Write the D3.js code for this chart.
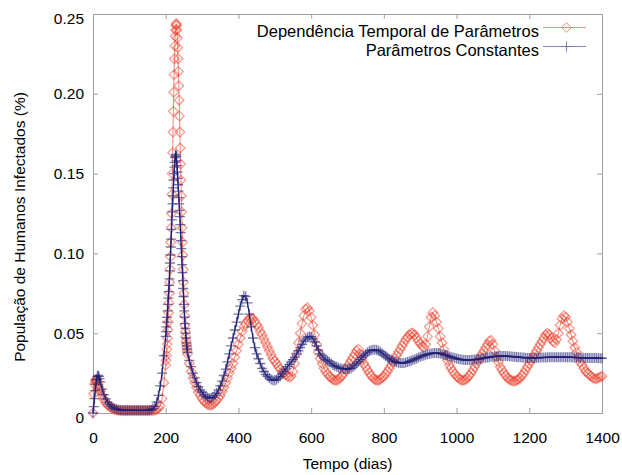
<!DOCTYPE html>
<html>
<head>
<meta charset="utf-8">
<script src="https://cdn.jsdelivr.net/npm/d3@7/dist/d3.min.js"></script>
<style>
  html, body { margin: 0; padding: 0; background: #fff; }
  svg { display: block; font-family: "Liberation Sans", Arial, sans-serif; }
</style>
</head>
<body>
<svg id="chart" width="622" height="475"></svg>
<script>
// ---------------- DATA ----------------
const seriesNames = ["Dependência Temporal de Parâmetros", "Parâmetros Constantes"];
const xTicks = [0, 200, 400, 600, 800, 1000, 1200, 1400];
const yTicks = [0, 0.05, 0.10, 0.15, 0.20, 0.25];
const xLabel = "Tempo (dias)";
const yLabel = "População de Humanos Infectados (%)";

// sampling grid of the simulation output (days)
const daysStart = d3.range(0, 21, 2);        // 0..20
const daysEarly = d3.range(25, 200, 5);      // 25..195
const daysPeak  = d3.range(200, 261, 1);     // 200..260
const daysLate  = d3.range(265, 1401, 5);    // 265..1400

// "Dependência Temporal de Parâmetros"
const redStart = [0.000, 0.012, 0.018, 0.020, 0.021, 0.0205, 0.0195, 0.018, 0.0165, 0.015, 0.0135];
const redEarly = [
  0.011, 0.0085, 0.0065, 0.005, 0.004, 0.0032, 0.0026, 0.0022, 0.0019, 0.0017, 0.0016, 0.0015,
  0.0015, 0.0015, 0.0015, 0.0015, 0.0015, 0.0015, 0.0015, 0.0015, 0.0015, 0.0015, 0.0015, 0.0015, 0.0015, 0.0015, 0.0015, 0.0015,
  0.0016, 0.0018, 0.0022, 0.003, 0.0045, 0.009, 0.019
];
const redPeak = [
  0.030, 0.033, 0.036, 0.040, 0.043, 0.047, 0.052, 0.057, 0.063, 0.069,
  0.075, 0.082, 0.090, 0.098, 0.107, 0.116, 0.125, 0.137, 0.150, 0.163,
  0.176, 0.189, 0.201, 0.212, 0.222, 0.230, 0.236, 0.240, 0.243, 0.244,
  0.243, 0.240, 0.235, 0.229, 0.222, 0.214, 0.205, 0.196, 0.186, 0.176,
  0.166, 0.156, 0.146, 0.136, 0.126, 0.116, 0.107, 0.099, 0.090, 0.082,
  0.075, 0.068, 0.061, 0.055, 0.051, 0.048, 0.045, 0.043, 0.041, 0.039,
  0.037
];
const redLate = [
  0.031, 0.026, 0.022, 0.019, 0.016, 0.013, 0.011, 0.009, 0.0075, 0.0062, 0.0055, 0.005, 0.005, 0.0055, 0.0065, 0.008, 0.0095, 0.011, 0.0135, 0.016,
  0.019, 0.022, 0.025, 0.028, 0.031, 0.035, 0.039, 0.043, 0.047, 0.051, 0.054, 0.056, 0.058, 0.059, 0.0595, 0.059, 0.0575, 0.0555, 0.0535, 0.051,
  0.049, 0.0465, 0.044, 0.0415, 0.039, 0.0365, 0.034, 0.0325, 0.031, 0.029, 0.0275, 0.026, 0.025, 0.024, 0.023, 0.0225, 0.023, 0.026, 0.031, 0.037,
  0.044, 0.050, 0.056, 0.061, 0.065, 0.066, 0.064, 0.060, 0.055, 0.049, 0.043, 0.038, 0.034, 0.031, 0.028, 0.026, 0.0245, 0.023, 0.022, 0.021,
  0.0205, 0.0205, 0.021, 0.022, 0.0235, 0.025, 0.027, 0.029, 0.031, 0.033, 0.035, 0.037, 0.039, 0.040, 0.037, 0.034, 0.031, 0.029, 0.027, 0.025,
  0.0235, 0.022, 0.021, 0.0205, 0.0205, 0.021, 0.022, 0.023, 0.0245, 0.026, 0.028, 0.030, 0.032, 0.034, 0.036, 0.038, 0.040, 0.042, 0.044, 0.046,
  0.0475, 0.049, 0.050, 0.050, 0.049, 0.047, 0.045, 0.0435, 0.042, 0.041, 0.043, 0.048, 0.054, 0.060, 0.063, 0.061, 0.057, 0.053, 0.048, 0.044,
  0.040, 0.036, 0.033, 0.030, 0.028, 0.026, 0.0245, 0.023, 0.022, 0.021, 0.0205, 0.0205, 0.021, 0.022, 0.0235, 0.025, 0.027, 0.029, 0.031, 0.033,
  0.035, 0.037, 0.039, 0.041, 0.043, 0.045, 0.0455, 0.043, 0.039, 0.035, 0.032, 0.029, 0.027, 0.025, 0.0235, 0.022, 0.021, 0.0205, 0.020, 0.020,
  0.0205, 0.021, 0.022, 0.0235, 0.025, 0.027, 0.029, 0.031, 0.033, 0.035, 0.037, 0.039, 0.041, 0.043, 0.045, 0.047, 0.049, 0.050, 0.049, 0.047,
  0.045, 0.044, 0.046, 0.050, 0.055, 0.059, 0.061, 0.060, 0.057, 0.053, 0.049, 0.045, 0.041, 0.038, 0.035, 0.032, 0.030, 0.028, 0.026, 0.025,
  0.024, 0.023, 0.022, 0.0215, 0.0215, 0.022, 0.0225, 0.023
];

// "Parâmetros Constantes"
const blueStart = [0.000, 0.004, 0.009, 0.014, 0.018, 0.021, 0.0228, 0.0235, 0.023, 0.0215, 0.0195];
const blueEarly = [
  0.015, 0.0115, 0.0088, 0.0068, 0.0053, 0.0042, 0.0034, 0.0028, 0.0024, 0.0021, 0.0019, 0.0018,
  0.0017, 0.0017, 0.0017, 0.0017, 0.0017, 0.0017, 0.0017, 0.0017, 0.0017, 0.0017, 0.0017, 0.0017, 0.0017, 0.0017,
  0.0018, 0.0021, 0.0028, 0.0042, 0.0068, 0.011, 0.017, 0.025, 0.036
];
const bluePeak = [
  0.048, 0.051, 0.054, 0.057, 0.060, 0.064, 0.068, 0.072, 0.076, 0.080,
  0.084, 0.089, 0.094, 0.099, 0.104, 0.109, 0.115, 0.121, 0.126, 0.131,
  0.136, 0.141, 0.146, 0.150, 0.154, 0.157, 0.160, 0.161, 0.162, 0.161,
  0.158, 0.155, 0.151, 0.147, 0.143, 0.139, 0.135, 0.131, 0.127, 0.123,
  0.118, 0.113, 0.108, 0.103, 0.098, 0.093, 0.088, 0.083, 0.078, 0.073,
  0.068, 0.064, 0.060, 0.056, 0.053, 0.050, 0.047, 0.044, 0.042, 0.040,
  0.038
];
const blueLate = [
  0.033, 0.029, 0.025, 0.022, 0.019, 0.0165, 0.0145, 0.013, 0.0115, 0.0105, 0.0097, 0.0093, 0.0094, 0.010, 0.011, 0.0125, 0.0145, 0.017, 0.020, 0.0235,
  0.0275, 0.032, 0.037, 0.042, 0.047, 0.052, 0.057, 0.062, 0.067, 0.071, 0.0735, 0.073, 0.069, 0.062, 0.054, 0.047, 0.041, 0.037, 0.034, 0.031,
  0.028, 0.026, 0.024, 0.023, 0.022, 0.021, 0.0205, 0.0205, 0.021, 0.022, 0.023, 0.0245, 0.026, 0.0275, 0.029, 0.0305, 0.032, 0.0335, 0.035, 0.037,
  0.039, 0.041, 0.043, 0.045, 0.0465, 0.0475, 0.048, 0.0478, 0.0465, 0.0445, 0.042, 0.0395, 0.037, 0.036, 0.0345, 0.0335, 0.0328, 0.032, 0.031, 0.030,
  0.0295, 0.029, 0.0285, 0.028, 0.0278, 0.0276, 0.0275, 0.0275, 0.0277, 0.028, 0.0288, 0.0298, 0.031, 0.0322, 0.0335, 0.0348, 0.036, 0.037, 0.038, 0.0388,
  0.0393, 0.0396, 0.0397, 0.0395, 0.039, 0.0383, 0.0375, 0.0366, 0.0357, 0.0348, 0.034, 0.0333, 0.0327, 0.0322, 0.0318, 0.0315, 0.0313, 0.0313, 0.0314, 0.0316,
  0.0319, 0.0323, 0.0327, 0.0332, 0.0337, 0.0342, 0.0347, 0.0352, 0.0357, 0.0361, 0.0365, 0.0368, 0.0371, 0.0373, 0.0375, 0.0376, 0.0376, 0.0375, 0.0373, 0.037,
  0.0367, 0.0363, 0.0359, 0.0355, 0.0351, 0.0347, 0.0344, 0.0341, 0.0338, 0.0336, 0.0334, 0.0333, 0.0332, 0.0332, 0.0332, 0.0333, 0.0334, 0.0335, 0.0336, 0.0338,
  0.034, 0.0342, 0.0344, 0.0346, 0.0348, 0.035, 0.0352, 0.0353, 0.0354, 0.0355, 0.0356, 0.0357, 0.0357, 0.0357, 0.0357, 0.0356, 0.0355, 0.0354, 0.0353, 0.0352,
  0.0351, 0.035, 0.0349, 0.0348, 0.0347, 0.0346, 0.0345, 0.0345, 0.0345, 0.0345, 0.0345, 0.0346, 0.0346, 0.0347, 0.0347, 0.0348, 0.0348, 0.0349, 0.0349, 0.035,
  0.035, 0.035, 0.035, 0.035, 0.035, 0.035, 0.035, 0.035, 0.035, 0.0349, 0.0349, 0.0348, 0.0348, 0.0347, 0.0347, 0.0346, 0.0346, 0.0346, 0.0345, 0.0345,
  0.0345, 0.0345, 0.0344, 0.0344, 0.0344, 0.0343, 0.0343, 0.0343
];

// ---------------- BUILD ----------------
const days = [].concat(daysStart, daysEarly, daysPeak, daysLate);
const redVals = [].concat(redStart, redEarly, redPeak, redLate);
const blueVals = [].concat(blueStart, blueEarly, bluePeak, blueLate);
if (redVals.length !== days.length || blueVals.length !== days.length) {
  throw new Error("length mismatch days=" + days.length + " red=" + redVals.length + " blue=" + blueVals.length);
}
const redData = days.map((d, i) => [d, redVals[i]]);
const blueData = days.map((d, i) => [d, blueVals[i]]);

const m = { left: 93, right: 602, top: 14, bottom: 413 };
const svg = d3.select("#chart");

const x = d3.scaleLinear().domain([0, 1400]).range([m.left, m.right]);
const y = d3.scaleLinear().domain([0, 0.25]).range([m.bottom, m.top]);

const axisColor = "#a0a0a0";
const fontSize = 15.5;
const legendFont = 16.5;

// axes
const fmtY = d => d === 0 ? "0" : d3.format(".2f")(d);
const gx = svg.append("g").attr("transform", `translate(0,${m.bottom})`)
  .call(d3.axisBottom(x).tickValues(xTicks).tickSizeInner(-5).tickSizeOuter(0).tickPadding(18.5).tickFormat(d3.format("d")));
const gxt = svg.append("g").attr("transform", `translate(0,${m.top})`)
  .call(d3.axisTop(x).tickValues(xTicks).tickSizeInner(-5).tickSizeOuter(0).tickFormat(""));
const gy = svg.append("g").attr("transform", `translate(${m.left},0)`)
  .call(d3.axisLeft(y).tickValues(yTicks).tickSizeInner(-5).tickSizeOuter(0).tickPadding(9).tickFormat(fmtY));
const gyr = svg.append("g").attr("transform", `translate(${m.right},0)`)
  .call(d3.axisRight(y).tickValues(yTicks).tickSizeInner(-5).tickSizeOuter(0).tickFormat(""));

[gx, gxt, gy, gyr].forEach(g => {
  g.select(".domain").remove();
  g.selectAll(".tick line").attr("stroke", axisColor);
  g.selectAll("text").attr("fill", "#000").style("font-size", fontSize + "px")
    .style("font-family", '"Liberation Sans", Arial, sans-serif');
});
// end labels sit slightly lower in the original
gy.selectAll(".tick text").filter(d => d === 0 || d === 0.25).attr("dy", "0.62em");

// frame
svg.append("rect")
  .attr("x", m.left + 0.5).attr("y", m.top + 0.5)
  .attr("width", m.right - m.left).attr("height", m.bottom - m.top)
  .attr("fill", "none").attr("stroke", axisColor).attr("stroke-width", 1);

// axis titles
svg.append("text")
  .attr("x", (m.left + m.right) / 2).attr("y", 469)
  .attr("text-anchor", "middle").style("font-size", fontSize + "px")
  .text(xLabel);
svg.append("text")
  .attr("transform", `translate(25,${227}) rotate(-90)`)
  .attr("text-anchor", "middle").style("font-size", fontSize + "px")
  .text(yLabel);

// series
const redColor = "#ee3b25";
const blueColor = "#1e1e74";
const diamond = "M0,-4.8L4.8,0L0,4.8L-4.8,0Z";
const plus = "M-5,0H5M0,-5V5";

const line = d3.line().x(d => x(d[0])).y(d => y(d[1]));

const gRed = svg.append("g");
gRed.append("path").datum(redData).attr("d", line)
  .attr("fill", "none").attr("stroke", "#f06a5a").attr("stroke-width", 0.9).attr("stroke-opacity", 0.9);
gRed.selectAll("path.m").data(redData).join("path").attr("class", "m")
  .attr("d", diamond)
  .attr("transform", d => `translate(${x(d[0])},${y(d[1])})`)
  .attr("fill", "none").attr("stroke", redColor).attr("stroke-width", 1.3).attr("stroke-opacity", 0.5);

const gBlue = svg.append("g");
gBlue.selectAll("path.m").data(blueData).join("path").attr("class", "m")
  .attr("d", plus)
  .attr("transform", d => `translate(${x(d[0])},${y(d[1])})`)
  .attr("fill", "none").attr("stroke", blueColor).attr("stroke-width", 1.3).attr("stroke-opacity", 0.6);
gBlue.append("path").datum(blueData).attr("d", line)
  .attr("fill", "none").attr("stroke", blueColor).attr("stroke-width", 1.2);

// legend
const legend = svg.append("g");
const legendRows = [
  { name: seriesNames[0], ty: 37, ly: 27.5, color: "#f3907f", marker: diamond, mcolor: "#f07a68" },
  { name: seriesNames[1], ty: 56, ly: 46.5, color: "#8585bd", marker: plus, mcolor: "#6a6aaa" }
];
legendRows.forEach(r => {
  legend.append("text").attr("x", 539).attr("y", r.ty).attr("text-anchor", "end")
    .style("font-size", legendFont + "px").text(r.name);
  legend.append("line").attr("x1", 543).attr("x2", 586).attr("y1", r.ly).attr("y2", r.ly)
    .attr("stroke", r.color).attr("stroke-width", 1);
  legend.append("path").attr("d", r.marker).attr("transform", `translate(566.5,${r.ly})`)
    .attr("fill", "none").attr("stroke", r.mcolor).attr("stroke-width", 0.9);
});
</script>
</body>
</html>
